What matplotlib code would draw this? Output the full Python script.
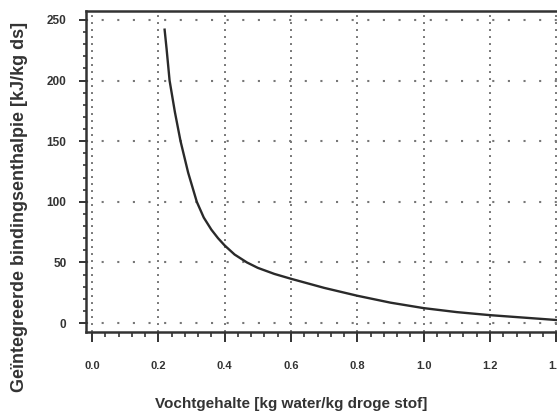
import matplotlib
matplotlib.use("Agg")
import matplotlib.pyplot as plt
from matplotlib.ticker import AutoMinorLocator

# curve
moisture = [0.219, 0.225, 0.234, 0.25, 0.267, 0.29, 0.316, 0.337, 0.36, 0.38,
            0.40, 0.43, 0.467, 0.50, 0.55, 0.60, 0.70, 0.80, 0.90, 1.00,
            1.10, 1.20, 1.30, 1.40]
enthalpy = [242, 226, 200, 174, 150, 124, 100, 87, 77, 70,
            64, 56.5, 50, 45.5, 40.5, 36.5, 29, 22.5, 16.8, 12.3,
            9, 6.5, 4.5, 2.5]

xticks = [0.0, 0.2, 0.4, 0.6, 0.8, 1.0, 1.2, 1.4]
yticks = [0, 50, 100, 150, 200, 250]

plt.rcParams['font.family'] = ['Liberation Sans', 'DejaVu Sans']
plt.rcParams['font.weight'] = 'bold'

ink = '#333333'
fig = plt.figure(figsize=(5.57, 4.2), dpi=100)
ax = fig.add_axes([86 / 557, 88 / 420, 477 / 557, 321 / 420])

ax.plot(moisture, enthalpy, color='#2a2a2a', lw=1.7, solid_joinstyle='round')

ax.set_xlim(-0.018, 1.42)
ax.set_ylim(-7.4, 257.4)
ax.set_xticks(xticks)
ax.set_xticklabels([f"{t:.1f}" for t in xticks])
ax.set_yticks(yticks)
ax.xaxis.set_minor_locator(AutoMinorLocator(5))
ax.yaxis.set_minor_locator(AutoMinorLocator(5))

ax.tick_params(axis='x', which='major', direction='out', length=7, width=1.4,
               pad=14, labelsize=8, colors=ink)
ax.tick_params(axis='x', which='minor', direction='out', length=3.5, width=1.2, colors=ink)
ax.tick_params(axis='y', which='major', direction='out', length=5, width=1.4,
               pad=9, labelsize=8.5, colors=ink)
ax.tick_params(axis='y', which='minor', direction='out', length=2.5, width=1.2, colors=ink)

# dotted grid, dense dots on the verticals, sparse on the horizontals
for t in xticks:
    ax.axvline(t, color='#777777', lw=1.4, linestyle=(0, (1, 2.6)), zorder=0)
for t in yticks:
    ax.axhline(t, color='#777777', lw=1.5, linestyle=(0, (1, 6.5)), zorder=0)

for side in ['left', 'bottom', 'top', 'right']:
    ax.spines[side].set_linewidth(1.8)
    ax.spines[side].set_color(ink)

fig.text(291 / 557, 1 - 404 / 420, "Vochtgehalte [kg water/kg droge stof]",
         ha='center', va='center', fontsize=11, fontweight='bold', color=ink)
fig.text(20 / 557, 1 - 207 / 420, "Geïntegreerde bindingsenthalpie [kJ/kg ds]",
         ha='center', va='center', rotation=90, fontsize=13, fontweight='bold', color=ink)

fig.savefig("out.png", dpi=100)
